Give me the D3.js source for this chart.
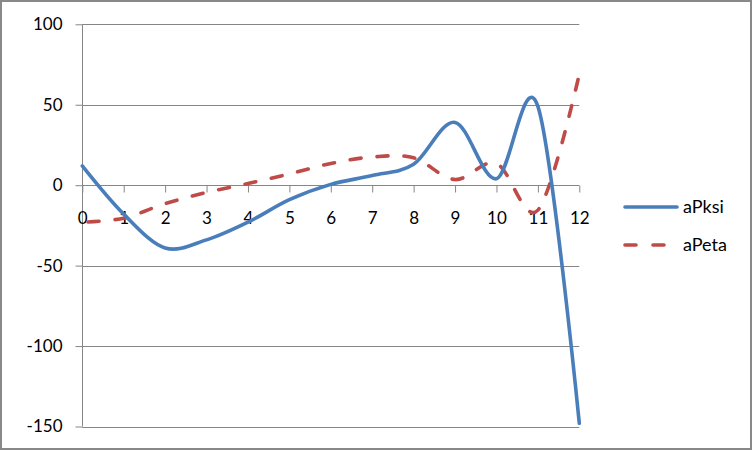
<!DOCTYPE html>
<html><head><meta charset="utf-8">
<script src="https://cdn.jsdelivr.net/npm/d3@7"></script>
<style>html,body{margin:0;padding:0;background:#fff;}svg{display:block;}</style>
</head><body>
<svg id="c" width="753" height="451"></svg>
<script>
const xValues = [0,1,2,3,4,5,6,7,8,9,10,11,12];
const aPksi = [12, -18, -39, -34, -23, -9, 0.5, 6, 13, 39, 4, 49, -148];
const aPeta = [-23, -20.5, -11.5, -4.5, 1, 7, 13.5, 17.5, 17, 3.5, 13.5, -15.5, 69];
const yTicks = [100, 50, 0, -50, -100, -150];
const xTicks = [0,1,2,3,4,5,6,7,8,9,10,11,12];
const seriesNames = ["aPksi", "aPeta"];
const colors = ["#4A7EBB", "#BE4B48"];

const svg = d3.select("#c");
const font = "Lato, 'Open Sans', sans-serif";
const grid = "#868686";

svg.append("rect").attr("x",1).attr("y",1).attr("width",750).attr("height",448)
  .attr("fill","#fff").attr("stroke","#898989").attr("stroke-width",2);

const x = d3.scaleLinear().domain([0,12]).range([82.3,579.3]);
const y = d3.scaleLinear().domain([-150,100]).range([426.5,24.3]);

svg.append("g").selectAll("line").data(yTicks.filter(d=>d!==0)).join("line")
  .attr("x1",x(0)).attr("x2",x(12))
  .attr("y1",d=>Math.round(y(d))+0.5).attr("y2",d=>Math.round(y(d))+0.5)
  .attr("stroke",grid).attr("stroke-width",1);

const yAxis = d3.axisLeft(y).tickValues(yTicks).tickSize(7).tickPadding(13).tickFormat(d=>String(d));
const gy = svg.append("g").attr("transform",`translate(${Math.round(x(0))+0.5},0)`).call(yAxis);
gy.select(".domain").attr("stroke",grid).attr("d",`M0,${y(100)}V${y(-150)}`);
gy.selectAll(".tick line").attr("stroke",grid);
gy.selectAll(".tick text").attr("font-family",font).attr("font-size",17).attr("fill","#000");

const xAxis = d3.axisBottom(x).tickValues(xTicks).tickSize(7).tickPadding(19).tickFormat(d=>String(d));
const gx = svg.append("g").attr("transform",`translate(0,${Math.round(y(0))+0.5})`).call(xAxis);
gx.select(".domain").attr("stroke",grid).attr("d",`M${x(0)},0H${x(12)}`);
gx.selectAll(".tick line").attr("stroke",grid);
gx.selectAll(".tick text").attr("font-family",font).attr("font-size",17).attr("fill","#000");

const line = d3.line().x((d,i)=>x(xValues[i])).y(d=>y(d)).curve(d3.curveCardinal.tension(0));

const redPath = svg.append("path").datum(aPeta).attr("d",line).attr("fill","none")
  .attr("stroke",colors[1]).attr("stroke-width",3.6).attr("stroke-dasharray","11,16").attr("stroke-linecap","round");
// align dash pattern so the curve ends on a dash
const L = redPath.node().getTotalLength();
const period = 27;
redPath.attr("stroke-dashoffset", -((((L - 11) % period) + period) % period) / 2);

svg.append("path").datum(aPksi).attr("d",line).attr("fill","none")
  .attr("stroke",colors[0]).attr("stroke-width",3.6).attr("stroke-linecap","round");

const lg = svg.append("g");
seriesNames.forEach((name,i)=>{
  const ly = [207,245][i];
  lg.append("line").attr("x1",625).attr("x2",677).attr("y1",ly).attr("y2",ly)
    .attr("stroke",colors[i]).attr("stroke-width",3.6).attr("stroke-linecap","round")
    .attr("stroke-dasharray", i===1 ? "11,17" : null);
  lg.append("text").attr("x",683).attr("y",ly).attr("dy","0.35em")
    .attr("font-family",font).attr("font-size",18).attr("fill","#000").text(name);
});
</script>
</body></html>
